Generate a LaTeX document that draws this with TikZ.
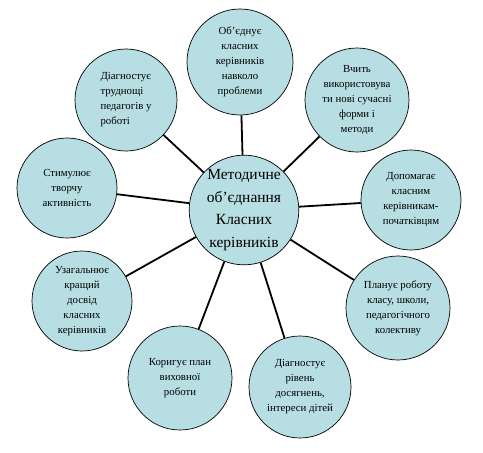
\documentclass[tikz,border=0pt]{standalone}
\usepackage{fontspec}
\setmainfont{Liberation Serif}
\definecolor{bub}{RGB}{183,222,226}
\begin{document}
\begin{tikzpicture}[x=1pt,y=-1pt,
 bubble/.style={circle,draw=black,line width=0.7pt,fill=bub,minimum size=102pt,inner sep=0pt,align=center,font=\fontsize{10.8}{15}\selectfont},
 link/.style={line width=1.8pt}]
\useasboundingbox (0,0) rectangle (483,453);
\node[bubble,minimum size=108pt,font=\fontsize{15.5}{22.5}\selectfont] (c) at (244,210) {Методичне\\об’єднання\\Класних\\керівників};
\node[bubble,minimum size=106pt] (n1) at (240,62) {Об’єднує\\класних\\керівників\\навколо\\проблеми};
\node[bubble,minimum size=104pt] (n2) at (357,100) {Вчить\\використовува\\ти нові сучасні\\форми і\\методи};
\node[bubble,minimum size=100pt] (n3) at (411,200) {Допомагає\\класним\\керівникам-\\початківцям};
\node[bubble,minimum size=104pt] (n4) at (398,308) {Планує роботу\\класу, школи,\\педагогічного\\колективу};
\node[bubble,minimum size=102pt] (n5) at (300,387) {Діагностує\\рівень\\досягнень,\\інтереси дітей};
\node[bubble,minimum size=104pt] (n6) at (180,378) {Коригує план\\виховної\\роботи};
\node[bubble,minimum size=100pt] (n7) at (82,301) {Узагальнює\\кращий\\досвід\\класних\\керівників};
\node[bubble,minimum size=100pt] (n8) at (67,188) {Стимулює\\творчу\\активність};
\node[bubble,minimum size=102pt,align=left] (n9) at (126,100) {Діагностує\\труднощі\\педагогів у\\роботі};
\foreach \n in {n1,n2,n3,n4,n5,n6,n7,n8,n9}
  \draw[link] (c) -- (\n);
\end{tikzpicture}
\end{document}
